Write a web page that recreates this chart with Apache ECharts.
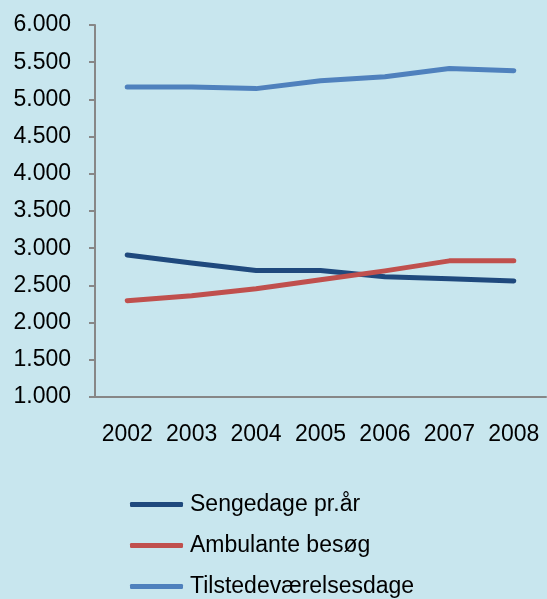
<!DOCTYPE html>
<html>
<head>
    <meta charset="utf-8">
    <title>Sengedage</title>
    <script src="https://cdn.jsdelivr.net/npm/echarts@6/dist/echarts.min.js"></script>
    <style>
        html, body { margin: 0; padding: 0; background: #c8e6ee; }
        #chart { width: 547px; height: 599px; }
    </style>
</head>
<body>
<div id="chart"></div>
<script>
    var years = ['2002', '2003', '2004', '2005', '2006', '2007', '2008'];
    var sengedage = [2910, 2800, 2700, 2700, 2615, 2590, 2560];
    var ambulante = [2295, 2360, 2455, 2575, 2695, 2830, 2830];
    var tilstede = [5165, 5165, 5145, 5250, 5305, 5415, 5385];

    var chart = echarts.init(document.getElementById('chart'));

    function serie(name, data, color) {
        return {
            name: name,
            type: 'line',
            data: data,
            symbol: 'none',
            lineStyle: { width: 5, color: color, cap: 'round', join: 'round' },
            itemStyle: { color: color }
        };
    }

    var option = {
        backgroundColor: '#c8e6ee',
        animation: false,
        textStyle: { fontFamily: 'Liberation Sans, Arial, sans-serif' },
        grid: { left: 95, right: 1, top: 25, bottom: 202 },
        xAxis: {
            type: 'category',
            data: years,
            boundaryGap: true,
            axisLine: { lineStyle: { color: '#878787', width: 2 } },
            axisTick: { length: 6, lineStyle: { color: '#878787', width: 2 } },
            axisLabel: { color: '#000', fontSize: 23, margin: 26, interval: 0, hideOverlap: false }
        },
        yAxis: {
            type: 'value',
            min: 1000,
            max: 6000,
            interval: 500,
            splitLine: { show: false },
            axisLine: { show: true, lineStyle: { color: '#878787', width: 2 } },
            axisTick: { show: true, length: 6, lineStyle: { color: '#878787', width: 2 } },
            axisLabel: {
                color: '#000',
                fontSize: 23,
                margin: 24,
                formatter: function (v) {
                    return String(v).replace(/\B(?=(\d{3})+(?!\d))/g, '.');
                }
            }
        },
        legend: {
            orient: 'vertical',
            left: 130,
            top: 493,
            padding: 0,
            itemWidth: 53,
            itemHeight: 5,
            itemGap: 18,
            icon: 'roundRect',
            textStyle: { color: '#000', fontSize: 23, padding: [0, 0, 0, 2] },
            data: ['Sengedage pr.år', 'Ambulante besøg', 'Tilstedeværelsesdage']
        },
        series: [
            serie('Sengedage pr.år', sengedage, '#1f497d'),
            serie('Ambulante besøg', ambulante, '#c0504d'),
            serie('Tilstedeværelsesdage', tilstede, '#4f81bd')
        ]
    };

    chart.setOption(option);
</script>
</body>
</html>
